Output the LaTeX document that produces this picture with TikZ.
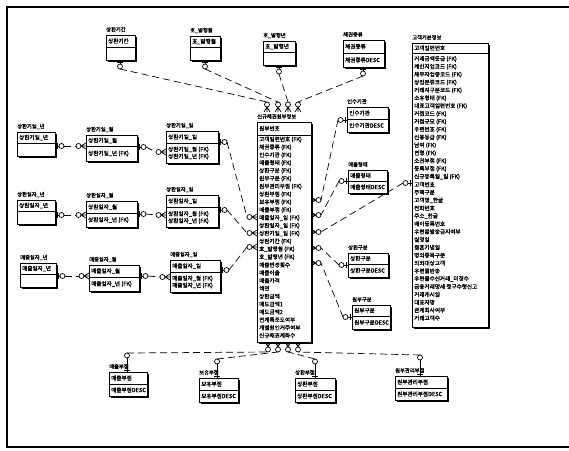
\documentclass[tikz,border=0pt]{standalone}
\usepackage{fontspec}
\newfontfamily\kr{Noto Sans CJK KR}[FakeBold=1.6]
\usetikzlibrary{fit,shadows}
\tikzset{
 ebox/.style={draw, line width=0.9pt, fill=white, inner sep=0pt,
   drop shadow={shadow xshift=2pt, shadow yshift=-2pt, opacity=1, fill=black}},
 sepl/.style={line width=0.7pt},
 etitle/.style={anchor=west, inner sep=0pt, font=\kr\fontsize{5.3}{6}\selectfont},
 erow/.style={anchor=west, inner sep=0pt, font=\kr\fontsize{5.6}{6.5}\selectfont},
 sym/.style={line width=0.7pt},
 rel/.style={line width=0.7pt, dash pattern=on 7pt off 4pt},
 crow/.pic={\draw[sym] (0,-3)--(5,0)--(0,3) (0,0)--(5,0);
   \draw[sym,fill=white] (7.5,0) circle[radius=2.5pt];
   \coordinate (-end) at (10,0);},
 onept/.pic={\draw[sym] (0,0)--(#1,0) (2,-3)--(2,3);
   \draw[sym,fill=white] ({#1+2.5},0) circle[radius=2.5pt];
   \coordinate (-end) at ({#1+5},0);},
}
\newcommand\ent[8]{%
 \node[ebox, fit={(#2,#3) (#4,#5)}] (#1) {};
 \draw[sepl] (#2,#6) -- (#4,#6);
 \node[etitle] (#1-t) at (#2,#3-5.5) {#7};
 \node[erow] (#1-h) at (#2+2,{(#3+#6)/2}) {#8};
}
\newcommand\erows[5]{\foreach \t [count=\i] in {#5} {\node[erow] (#1-r\i) at (#2+2,{#3+(\i-1)*#4}) {\t};}}
\begin{document}
\begin{tikzpicture}[x=1pt,y=-1pt]
\useasboundingbox (0,0) rectangle (569,450);
\draw[line width=1.2pt] (570,7) -- (7,7) -- (7,447) -- (570,447);

% top entities
\ent{sgg}{106}{35}{135}{60}{47}{상환기간}{상환기간}
\ent{hm}{190}{36}{220}{60}{47}{호\_발행월}{호\_발행월}
\ent{hy}{263}{41}{295}{65}{52}{호\_발행년}{호\_발행년}
\ent{cj}{343}{40}{384}{67}{53}{채권종류}{채권종류}
\node[erow] (cj-r1) at (345,60) {채권종류DESC};

% right small entities
\ent{isg}{347}{107}{388}{132}{119}{인수기관}{인수기관}
\node[erow] (isg-r1) at (349,125.5) {인수기관DESC};
\ent{mch}{348}{170}{387}{193}{181}{매출형태}{매출형태}
\node[erow] (mch-r1) at (350,187) {매출형태DESC};
\ent{shg}{348}{253}{388}{277}{264}{상환구분}{상환구분}
\node[erow] (shg-r1) at (350,270.5) {상환구분DESC};
\ent{wbg}{352}{305}{390}{329}{316}{원부구분}{원부구분}
\node[erow] (wbg-r1) at (354,322.5) {원부구분DESC};

% customer
\ent{cust}{412}{43}{488}{327}{53}{고객기본정보}{고객일련번호}
\erows{cust}{412}{59}{7.85}{거래금액등급 (FK),계인지업코드 (FK),채무자업종코드 (FK),상업분류코드 (FK),거래지구분코드 (FK),소유형태 (FK),대표고객일련번호 (FK),거점코드 (FK),거점규모 (FK),우편번호 (FK),신용등급 (FK),남여 (FK),연령 (FK),소관부점 (FK),등록부점 (FK),신규등록일\_일 (FK),고객번호,주택구분,고객명\_한글,전화번호,주소\_한글,배이등록번호,우편물발송금지여부,실명일,결혼기념일,명의종목구분,의외대상고객,우편물반송,우편물수신거래\_미경수,금융거래명세 정구수령신고,거래개시일,대표자명,관계회사여부,거래고객수}

% main
\ent{main}{257}{122}{311}{342}{135}{신규채권원부정보}{원부번호}
\erows{main}{257}{139.5}{7.84}{고객일련번호 (FK),채권종류 (FK),인수기관 (FK),매출형태 (FK),상환구분 (FK),원부구분 (FK),원부관리부점 (FK),상환부점 (FK),보유부점 (FK),매출부점 (FK),매출일자\_일 (FK),상환일자\_일 (FK),상환기일\_일 (FK),상환기간 (FK),호\_발행월 (FK),호\_발행년 (FK),매출변경횟수,매출이율,매출가격,액면,상환금액,매도금액1,매도금액2,연계특조도여부,개별원인거주여부,신규채권계좌수}

% left entities
\ent{sgy}{17}{132}{55}{156}{143}{상환기일\_년}{상환기일\_년}
\ent{sgm}{86}{135}{137}{161}{146}{상환기일\_월}{상환기일\_월}
\node[erow] (sgm-r1) at (88,153.5) {상환기일\_년 (FK)};
\ent{sgd}{166}{131}{218}{163}{143}{상환기일\_일}{상환기일\_일}
\erows{sgd}{166}{149.5}{7}{상환기일\_월 (FK),상환기일\_년 (FK)}
\ent{siy}{17}{200}{55}{224}{211}{상환일자\_년}{상환일자\_년}
\ent{sim}{86}{201}{137}{227}{213}{상환일자\_월}{상환일자\_월}
\node[erow] (sim-r1) at (88,220) {상환일자\_년 (FK)};
\ent{sid}{166}{195}{218}{227}{207}{상환일자\_일}{상환일자\_일}
\erows{sid}{166}{214}{7}{상환일자\_월 (FK),상환일자\_년 (FK)}
\ent{miy}{20}{263}{56}{287}{274}{매출일자\_년}{매출일자\_년}
\ent{mim}{89}{265}{139}{291}{277}{매출일자\_월}{매출일자\_월}
\node[erow] (mim-r1) at (91,284) {매출일자\_년 (FK)};
\ent{mid}{170}{260}{220}{292}{272}{매출일자\_일}{매출일자\_일}
\erows{mid}{170}{278.5}{7}{매출일자\_월 (FK),매출일자\_년 (FK)}

% bottom entities
\ent{mbj}{109}{372}{147}{396}{384}{매출부점}{매출부점}
\node[erow] (mbj-r1) at (111,390) {매출부점DESC};
\ent{bbj}{199}{378}{238}{402}{390}{보유부점}{보유부점}
\node[erow] (bbj-r1) at (201,396) {보유부점DESC};
\ent{sbj}{295}{378}{335}{402}{390}{상환부점}{상환부점}
\node[erow] (sbj-r1) at (297,396) {상환부점DESC};
\ent{wgb}{395}{376}{447}{400}{388}{원부관리부점}{원부관리부점}
\node[erow] (wgb-r1) at (397,394) {원부관리부점DESC};

% relationship symbols
\pic[rotate=-90] (pk1) at (120,60) {onept=4};
\pic[rotate=-90] (pk2) at (205,60) {onept=4};
\pic[rotate=-90] (pk3) at (279,65) {onept=4};
\pic[rotate=-90] (pk4) at (363,67) {onept=4};
\pic[rotate=90] (ck1) at (267,112) {crow};
\pic[rotate=90] (ck2) at (278,112) {crow};
\pic[rotate=90] (ck3) at (288,112) {crow};
\pic[rotate=90] (ck4) at (298,112) {crow};

\pic[rotate=180] (pr1) at (347,120) {onept=4};
\pic[rotate=180] (pr2) at (348,181) {onept=4};
\pic[rotate=180] (pr3) at (412,183) {onept=4};
\pic[rotate=180] (pr4) at (348,265) {onept=4};
\pic[rotate=180] (pr5) at (352,317) {onept=4};
\pic (cr1) at (311,200) {crow};
\pic (cr2) at (311,215) {crow};
\pic (cr3) at (311,232) {crow};
\pic (cr4) at (311,248) {crow};
\pic (cr5) at (311,263) {crow};

\pic (pl1) at (218,142) {onept=4};
\pic (pl2) at (218,210) {onept=4};
\pic (pl3) at (220,270) {onept=4};
\pic[rotate=180] (cl1) at (257,217) {crow};
\pic[rotate=180] (cl2) at (257,233) {crow};
\pic[rotate=180] (cl3) at (257,247) {crow};

\pic (a1) at (55,146) {onept=4};
\pic[rotate=180] (b1) at (86,146) {crow};
\pic (a2) at (137,147) {onept=4};
\pic[rotate=180] (b2) at (166,152) {crow};
\pic (a3) at (55,215) {onept=4};
\pic[rotate=180] (b3) at (86,215) {crow};
\pic (a4) at (137,214) {onept=4};
\pic[rotate=180] (b4) at (166,215) {crow};
\pic (a5) at (56,276) {onept=4};
\pic[rotate=180] (b5) at (89,276) {crow};
\pic (a6) at (139,276) {onept=4};
\pic[rotate=180] (b6) at (170,277) {crow};

\pic[rotate=90] (pb1) at (127,372) {onept=14};
\pic[rotate=90] (pb2) at (217,378) {onept=14};
\pic[rotate=90] (pb3) at (315,378) {onept=14};
\pic[rotate=90] (pb4) at (420,376) {onept=16};
\pic[rotate=-90] (cb1) at (268,342) {crow};
\pic[rotate=-90] (cb2) at (278,342) {crow};
\pic[rotate=-90] (cb3) at (288,342) {crow};
\pic[rotate=-90] (cb4) at (298,342) {crow};

% connectors
\draw[rel] (pk1-end) -- (ck1-end);
\draw[rel] (pk2-end) -- (ck2-end);
\draw[rel] (pk3-end) -- (ck3-end);
\draw[rel] (pk4-end) -- (ck4-end);
\draw[rel] (pr1-end) -- (cr1-end);
\draw[rel] (pr2-end) -- (cr2-end);
\draw[rel] (pr3-end) -- (cr3-end);
\draw[rel] (pr4-end) -- (cr4-end);
\draw[rel] (pr5-end) -- (cr5-end);
\draw[rel] (pl1-end) -- (cl1-end);
\draw[rel] (pl2-end) -- (cl2-end);
\draw[rel] (pl3-end) -- (cl3-end);
\draw[rel] (a1-end) -- (b1-end);
\draw[rel] (a2-end) -- (b2-end);
\draw[rel] (a3-end) -- (b3-end);
\draw[rel] (a4-end) -- (b4-end);
\draw[rel] (a5-end) -- (b5-end);
\draw[rel] (a6-end) -- (b6-end);
\draw[rel] (pb1-end) -- (cb1-end);
\draw[rel] (pb2-end) -- (cb2-end);
\draw[rel] (pb3-end) -- (cb3-end);
\draw[rel] (pb4-end) -- (cb4-end);
\end{tikzpicture}
\end{document}
